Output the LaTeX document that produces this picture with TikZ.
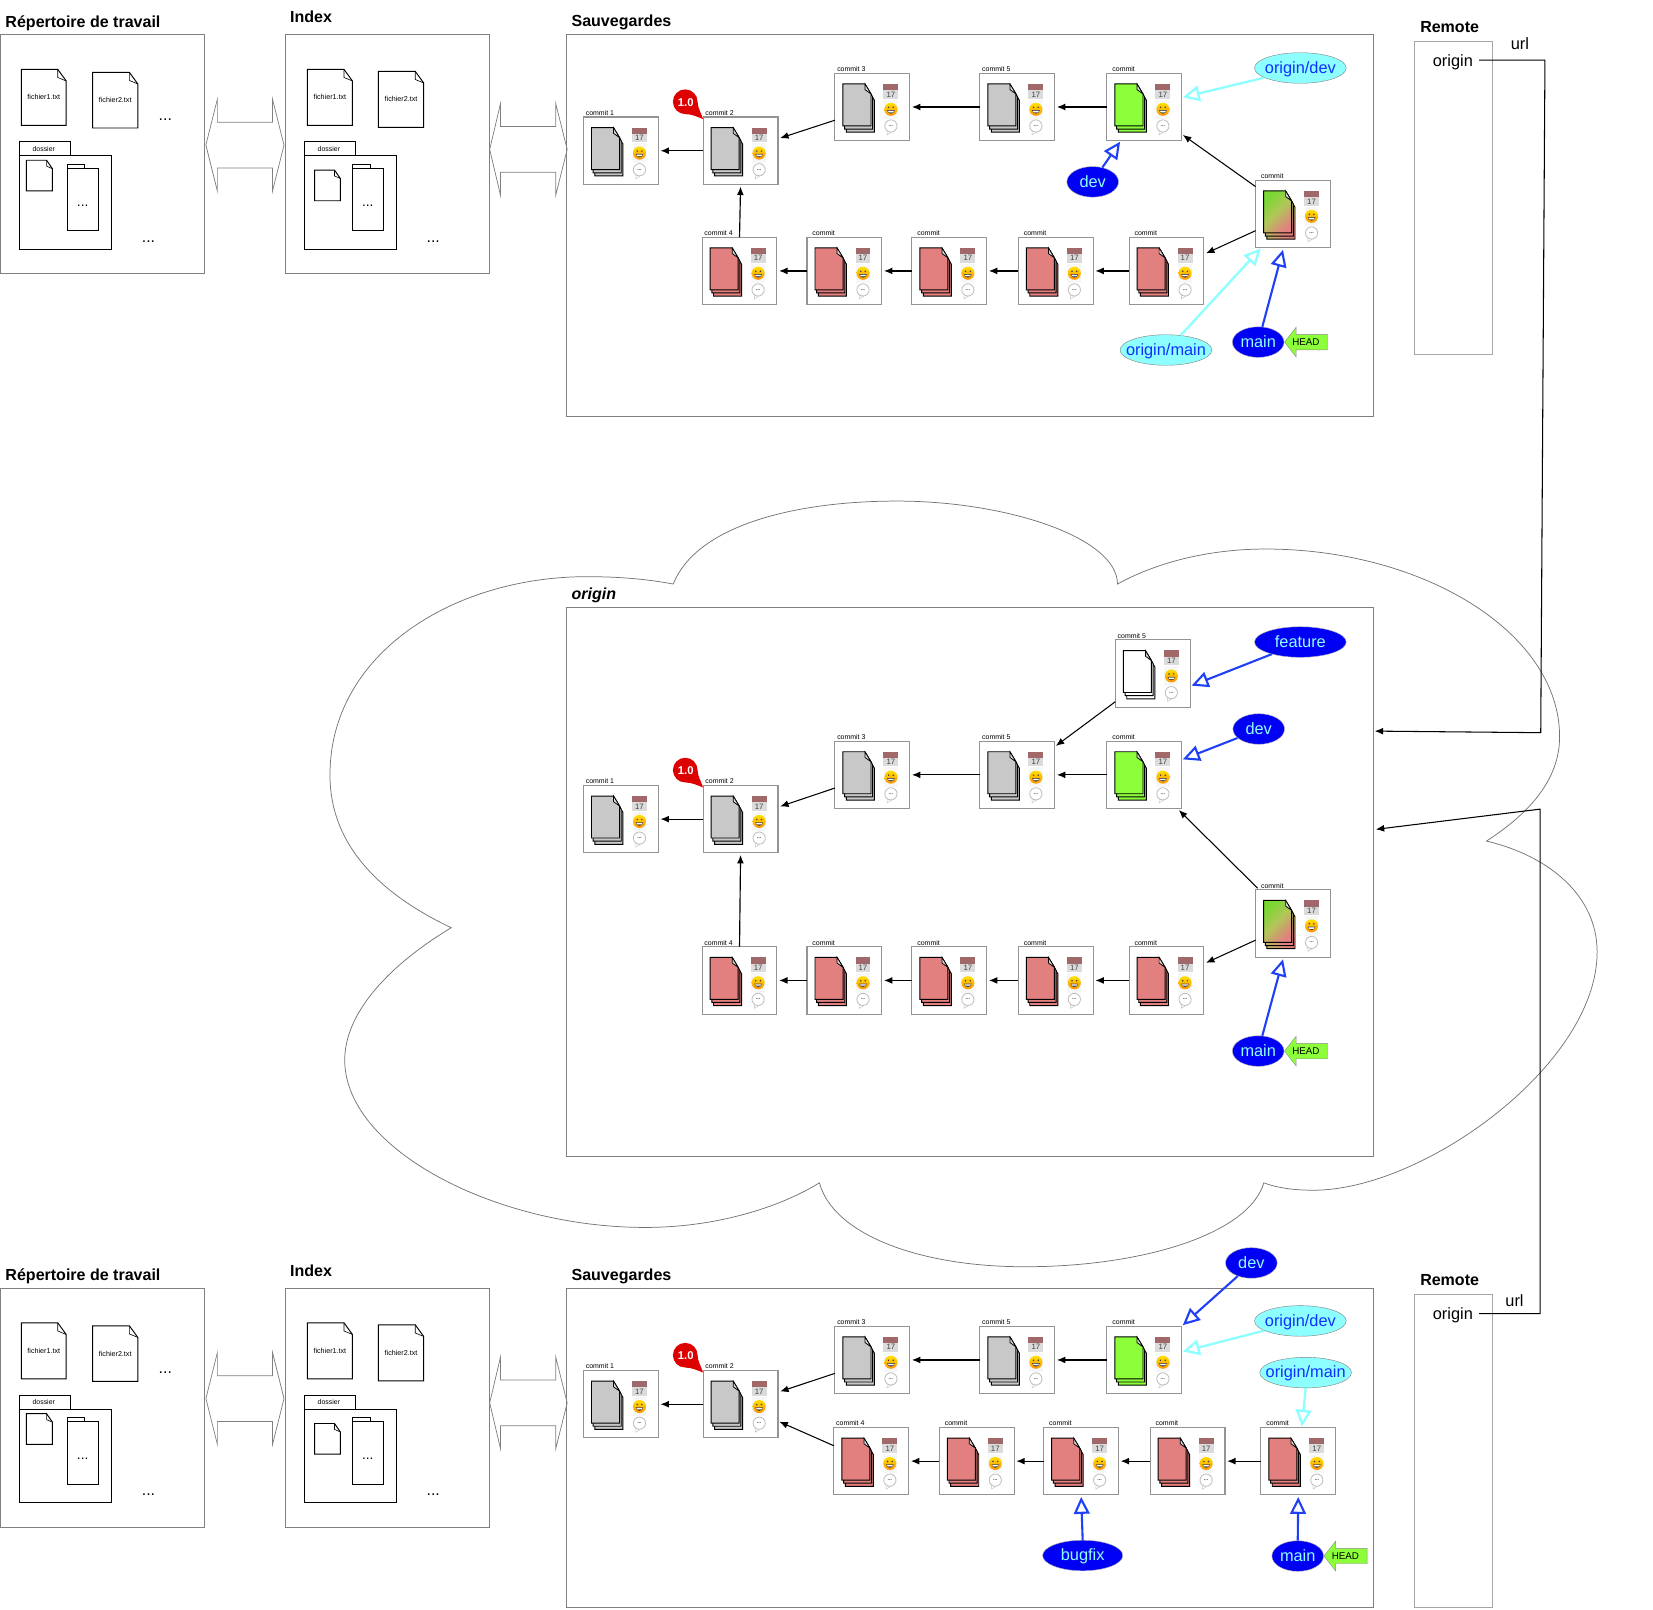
\documentclass[tikz,border=0pt]{standalone}
\usepackage{fontspec}
\setmainfont{Liberation Sans}
\usetikzlibrary{calc, arrows.meta, shapes.geometric, shapes.arrows}

\definecolor{filegray}{HTML}{C8C8C8}
\definecolor{filered}{HTML}{E27F7F}
\definecolor{filegreen}{HTML}{8CFF3A}
\definecolor{tagblue}{HTML}{0000F5}
\definecolor{tagcyan}{HTML}{8EFFFF}
\definecolor{ptrblue}{HTML}{2040F5}
\definecolor{txtblue}{HTML}{1030FF}
\definecolor{pinred}{HTML}{DD0000}
\definecolor{calred}{HTML}{A06868}

\tikzset{
  panelbox/.style={draw=black!50, line width=0.9pt, anchor=north west, inner sep=0, outer sep=0},
  commitbox/.style={draw=black!42, line width=1pt, fill=white, anchor=north west, inner sep=0, outer sep=0, minimum width=71pt, minimum height=64pt},
  commitname/.style={anchor=south west, inner sep=0, font=\fontsize{6.6}{7}\selectfont},
  title/.style={anchor=west, inner sep=0, font=\bfseries\fontsize{15.2}{18}\selectfont},
  plaintxt/.style={anchor=west, inner sep=3pt, font=\fontsize{15.5}{18}\selectfont},
  dots/.style={anchor=base, inner sep=0, font=\fontsize{15}{18}\selectfont},
  link/.style={-{Latex[length=8pt,width=6.5pt]}, line width=1.1pt, black, shorten >=2pt},
  wire/.style={-{Latex[length=8pt,width=6.5pt]}, line width=1pt, black},
  bluetag/.style={ellipse, draw=black!30, fill=tagblue, text=tagcyan, inner xsep=-10pt, inner ysep=0, text height=11pt, text depth=1pt, minimum width=49pt, minimum height=29pt, font=\fontsize{15.5}{18}\selectfont},
  cyantag/.style={ellipse, draw=black!50, fill=tagcyan, text=txtblue, inner xsep=-10pt, inner ysep=0, text height=11pt, text depth=1pt, minimum width=87pt, minimum height=29pt, font=\fontsize{15.5}{18}\selectfont},
  blueptr/.style={-{Triangle[open,length=16pt,width=15pt]}, ptrblue, line width=2pt},
  cyanptr/.style={-{Triangle[open,length=16pt,width=15pt]}, tagcyan, line width=2.2pt},
  headtag/.style={single arrow, shape border rotate=180, draw=black!45, fill=filegreen, anchor=tip, minimum height=40.8pt, single arrow head extend=6.8pt, single arrow tip angle=104, inner xsep=0.5pt, inner ysep=3.9pt, font=\fontsize{9.3}{10}\selectfont},
  pgray/.style={fill=filegray},
  pred/.style={fill=filered},
  pgreen/.style={fill=filegreen},
  pwhite/.style={fill=white},
  pmix/.style={top color=filegreen!85!black, bottom color=filered, middle color=filegreen!55!filered, shading angle=45},
}

% one commit : name, x, y, text, text offset, file style
\newcommand{\commit}[6]{
  \node[commitbox] (#1) at (#2,#3) {};
  \node[commitname] (#1n) at ($(#1.north west)+(#5,-1.2)$) {#4};
  \begin{scope}[shift={(#1.north west)}]
    \foreach \d in {2,1,0}
      \draw[#6, draw=black, line width=0.9pt, shift={(1.6*\d,3*\d)}] (7.6,10.1) -- (28.5,10.1) -- (34.2,19.6) -- (34.2,49.9) -- (7.6,49.9) -- cycle;
    \draw[fill=white!85!black, line width=0.7pt] (28.5,10.1) -- (28.5,15.5) -- (34.2,19.6) -- cycle;
    % date, smiley, comment
    \fill[black!14] (46,10) rectangle (60.2,24);
    \fill[calred] (46,10) rectangle (60.2,16);
    \node[inner sep=0, text=black!75, font=\fontsize{7.4}{8}\selectfont] (#1d) at (53.1,20) {17};
    \fill[black!3] (46.5,25) rectangle (59.5,43.5);
    \shade[top color=yellow!75!orange, bottom color=orange!85!yellow] (53.1,34.2) circle (6.2pt);
    \fill[black!75] (50.9,32.3) circle (0.8pt) (55.3,32.3) circle (0.8pt);
    \fill[black!70] (49.3,35) .. controls (50.5,39.5) and (55.7,39.5) .. (56.9,35) -- cycle;
    \fill[white] (50.3,35.7) -- (55.9,35.7) -- (55.2,37) -- (51,37) -- cycle;
    \draw[black!25, fill=white] (49.7,54) -- (49.5,58.5) -- (53.5,56) -- cycle;
    \node[circle, draw=black!25, fill=white, line width=0.8pt, inner sep=0, minimum size=11.6pt, text=black!75, font=\bfseries\fontsize{5}{5}\selectfont] (#1b) at (53.1,50) {...};
  \end{scope}
}

% the red version pin on a commit's corner
\newcommand{\tagpin}[1]{
  \begin{scope}[shift={(#1.north west)}]
    \fill[pinred] (0,2) .. controls (-2,-4) and (-5.3,-9) .. (-5.3,-14.5) .. controls (-5.3,-21) and (-10.5,-26.2) .. (-17,-26.2) .. controls (-23.5,-26.2) and (-28.7,-21) .. (-28.7,-14.5) .. controls (-28.7,-8) and (-23.5,-2.8) .. (-17,-2.8) .. controls (-11,-2.8) and (-5,0) .. cycle;
    \node[inner sep=0, text=white, font=\bfseries\fontsize{10.7}{12}\selectfont] (#1v) at (-16.5,-14) {1.0};
  \end{scope}
}

% x, y, width, height, ear width, ear height, name, text
\newcommand{\docfile}[8]{
  \begin{scope}[shift={(#1,#2)}]
    \draw[line width=0.9pt, fill=white] (0,0) -- (#3-#5,0) -- (#3,#6) -- (#3,#4) -- (0,#4) -- cycle;
    \draw[line width=0.6pt] (#3-#5,0) -- (#3-#5,#6*0.7) -- (#3,#6);
    \node[inner sep=0, font=\fontsize{6.8}{8}\selectfont] (#7) at (#3/2,#4/2) {#8};
  \end{scope}
}

% hollow double arrow between panels : left tip, left base, right base, right tip, middle
\newcommand{\dblarrow}[5]{
  \draw[black!50, line width=0.7pt] (#1,#5) -- (#2,#5-43.6) -- (#2,#5-21.7) -- (#3,#5-21.7) -- (#3,#5-43.6) -- (#4,#5) -- (#3,#5+43.6) -- (#3,#5+21.7) -- (#2,#5+21.7) -- (#2,#5+43.6) -- cycle;
}

% the two left panels
\newcommand{\workarea}[1]{
  \node[title] (rep#1) at (5,21.7) {Répertoire de travail};
  \node[title] (idx#1) at (275,16) {Index};
  \node[panelbox, minimum width=193.5pt, minimum height=226.5pt] (repbox#1) at (0.5,33) {};
  \node[panelbox, minimum width=194pt, minimum height=226.5pt] (idxbox#1) at (270.5,33) {};
  \dblarrow{195.3}{206.2}{258.5}{269.4}{137.6}
  \dblarrow{464.5}{474.8}{527.1}{538}{141.7}
  % working directory
  \docfile{20.3}{65.8}{42.5}{53.1}{8}{11}{repfa#1}{fichier1.txt}
  \docfile{87.9}{68.6}{42.8}{52.8}{8}{11}{repfb#1}{fichier2.txt}
  \node[dots] (repda#1) at (156.8,114) {...};
  \draw[line width=0.9pt] (18.9,147.7) rectangle (66.8,134.4);
  \node[inner sep=0, font=\fontsize{6.6}{8}\selectfont] (repdo#1) at (41.5,141) {dossier};
  \draw[line width=0.9pt] (18.9,147.7) rectangle (105.6,236.5);
  \docfile{25}{152}{24.7}{29}{5.5}{8}{repsm#1}{}
  \draw[line width=0.9pt] (63.9,155.9) rectangle (80.6,159.7);
  \draw[line width=0.9pt] (63.9,159.7) rectangle (93.7,218.8);
  \node[dots, font=\fontsize{13}{14}\selectfont] (repdb#1) at (78.4,195.5) {...};
  \node[dots] (repdc#1) at (140.9,230) {...};
  % index
  \docfile{291.5}{65.8}{42.8}{53.1}{8}{11}{idxfa#1}{fichier1.txt}
  \docfile{359}{67.7}{42.9}{53.1}{8}{11}{idxfb#1}{fichier2.txt}
  \draw[line width=0.9pt] (289,147.7) rectangle (337,134.4);
  \node[inner sep=0, font=\fontsize{6.6}{8}\selectfont] (idxdo#1) at (312,141) {dossier};
  \draw[line width=0.9pt] (289,147.7) rectangle (376,236.5);
  \docfile{298.4}{161.3}{24.4}{29.1}{5.5}{8}{idxsm#1}{}
  \draw[line width=0.9pt] (334.4,155.9) rectangle (351,159.7);
  \draw[line width=0.9pt] (334.4,159.7) rectangle (364,218.8);
  \node[dots, font=\fontsize{13}{14}\selectfont] (idxdb#1) at (348.9,195.5) {...};
  \node[dots] (idxdc#1) at (411,230) {...};
}

\newcommand{\headtxt}{\hspace*{-3pt}\raisebox{-1pt}{HEAD}\hspace*{3pt}}

\begin{document}
\begin{tikzpicture}[x=1pt,y=-1pt]
  \useasboundingbox (0,0) rectangle (1568,1526.3);

  % the cloud
  \draw[black!55, line width=0.7pt] (428,880) .. controls (365,850) and (313,805) .. (313,735)
    .. controls (313,620) and (430,547) .. (557,547) .. controls (585,547) and (612,549) .. (638.6,554)
    .. controls (660,500) and (750,475.3) .. (851,475.3) .. controls (955,475.3) and (1060,510) .. (1060,554)
    .. controls (1100,532) and (1150,520.8) .. (1200.4,520.8) .. controls (1350,520.8) and (1479.4,600) .. (1479.4,698.8)
    .. controls (1479.4,740) and (1450,772) .. (1410,797.8) .. controls (1470,812) and (1515,850) .. (1515,903)
    .. controls (1515,1010) and (1350,1129) .. (1246,1129) .. controls (1228,1129) and (1212,1127) .. (1198.8,1122)
    .. controls (1185,1170) and (1085,1201.6) .. (972,1201.6) .. controls (870,1201.6) and (790,1170) .. (777.3,1122)
    .. controls (740,1145) and (680,1164.3) .. (612,1164.3) .. controls (470,1164.3) and (327,1090) .. (327,1005.6)
    .. controls (327,960) and (370,915) .. cycle;

  %%%%% top
  \workarea{a}
  \node[title] (sava) at (542,21.7) {Sauvegardes};
  \node[panelbox, minimum width=765.5pt, minimum height=362pt] (savboxa) at (537.5,33) {};
  \node[title] (rema) at (1347,25.5) {Remote};
  \node[panelbox, draw=black!35, minimum width=73.5pt, minimum height=297pt] (remboxa) at (1342,39) {};
  \node[plaintxt] (orga) at (1356,59) {origin};
  \coordinate (orgstarta) at (1403,57);
  \node[plaintxt] (urla) at (1430,41) {url};

  \commit{c1a}{553.5}{111}{commit 1}{2}{pgray}
  \commit{c2a}{667}{111}{commit 2}{2}{pgray}
  \commit{c3a}{792}{69.5}{commit 3}{2}{pgray}
  \commit{c5a}{929.5}{69.5}{commit 5}{2}{pgray}
  \commit{greena}{1050}{69.5}{commit}{5}{pgreen}
  \commit{mergea}{1191}{171}{commit}{5}{pmix}
  \commit{r1a}{666}{225}{commit 4}{2}{pred}
  \commit{r2a}{765.5}{225}{commit}{5}{pred}
  \commit{r3a}{865}{225}{commit}{5}{pred}
  \commit{r4a}{966}{225}{commit}{5}{pred}
  \commit{r5a}{1071}{225}{commit}{5}{pred}
  \tagpin{c2a}

  \node[cyantag] (odeva) at (1233.5,64.5) {origin/dev};
  \node[bluetag] (deva) at (1036.5,172.5) {dev};
  \node[cyantag] (omaina) at (1106,332) {origin/main};
  \node[bluetag] (maina) at (1193.5,324.5) {main};
  \node[headtag] (heada) at (maina.east) {\headtxt};

  \draw[link] (c2a.west) -- (c1a.east);
  \draw[wire] ($(c3a.north west)+(0,44.5)$) -- ($(c2a.north east)+(2,20)$);
  \draw[link] (c5a.west) -- (c3a.east);
  \draw[link] (greena.west) -- (c5a.east);
  \draw[wire] ($(mergea.north west)+(0,6)$) -- ($(greena.south east)+(1,-5.5)$);
  \draw[wire] ($(mergea.north west)+(0,47.8)$) -- ($(r5a.north east)+(2,15.3)$);
  \draw[link] (r5a.west) -- (r4a.east);
  \draw[link] (r4a.west) -- (r3a.east);
  \draw[link] (r3a.west) -- (r2a.east);
  \draw[link] (r2a.west) -- (r1a.east);
  \draw[link] (r1a.north) -- (c2a.south);
  \draw[cyanptr] (odeva.195) -- ($(greena.north east)+(1,22.8)$);
  \draw[blueptr] (deva.56) -- ($(greena.south west)+(12.5,1)$);
  \draw[cyanptr] (omaina.45) -- ($(mergea.south west)+(5,0.6)$);
  \draw[blueptr] (maina.75) -- ($(mergea.south west)+(26,2)$);

  %%%%% origin
  \node[title, font=\bfseries\itshape\fontsize{15.2}{18}\selectfont] (sadb) at (542,564.7) {origin};
  \node[panelbox, minimum width=765.5pt, minimum height=521pt] (savboxb) at (537.5,576) {};

  \commit{c1b}{553.5}{745}{commit 1}{2}{pgray}
  \commit{c2b}{667}{745}{commit 2}{2}{pgray}
  \commit{c3b}{792}{703}{commit 3}{2}{pgray}
  \commit{c5b}{929.5}{703}{commit 5}{2}{pgray}
  \commit{whiteb}{1058}{607}{commit 5}{2}{pwhite}
  \commit{greenb}{1050}{703}{commit}{5}{pgreen}
  \commit{mergeb}{1191}{844}{commit}{5}{pmix}
  \commit{r1b}{666}{898}{commit 4}{2}{pred}
  \commit{r2b}{765.5}{898}{commit}{5}{pred}
  \commit{r3b}{865}{898}{commit}{5}{pred}
  \commit{r4b}{966}{898}{commit}{5}{pred}
  \commit{r5b}{1071}{898}{commit}{5}{pred}
  \tagpin{c2b}

  \node[bluetag, minimum width=87pt] (featb) at (1233.5,609) {feature};
  \node[bluetag] (devb) at (1194,691.5) {dev};
  \node[bluetag] (mainb) at (1193.5,997) {main};
  \node[headtag] (headb) at (mainb.east) {\headtxt};

  \draw[link] (c2b.west) -- (c1b.east);
  \draw[wire] ($(c3b.north west)+(0,44.5)$) -- ($(c2b.north east)+(2,20)$);
  \draw[link] (c5b.west) -- (c3b.east);
  \draw[link] (greenb.west) -- (c5b.east);
  \draw[wire] ($(whiteb.north west)+(0,58.6)$) -- ($(c5b.north east)+(1,4.6)$);
  \draw[wire] ($(mergeb.north west)+(2,-1.4)$) -- ($(greenb.south east)+(-2.8,1.4)$);
  \draw[wire] ($(mergeb.north west)+(0,47.8)$) -- ($(r5b.north east)+(2,15.3)$);
  \draw[link] (r5b.west) -- (r4b.east);
  \draw[link] (r4b.west) -- (r3b.east);
  \draw[link] (r3b.west) -- (r2b.east);
  \draw[link] (r2b.west) -- (r1b.east);
  \draw[link] (r1b.north) -- (c2b.south);
  \draw[blueptr] (featb.203) -- ($(whiteb.north east)+(1.3,43.4)$);
  \draw[blueptr] (devb.203) -- ($(greenb.north east)+(1,17.3)$);
  \draw[blueptr] (mainb.75) -- ($(mergeb.south west)+(26,2)$);

  %%%%% bottom
  \begin{scope}[yshift=-1189pt]
    \workarea{c}
  \end{scope}
  \node[title] (savc) at (542,1210.7) {Sauvegardes};
  \node[panelbox, minimum width=765.5pt, minimum height=303pt] (savboxc) at (537.5,1222) {};
  \node[title] (remc) at (1347,1214.5) {Remote};
  \node[panelbox, draw=black!35, minimum width=73.5pt, minimum height=297pt] (remboxc) at (1342,1228) {};
  \node[plaintxt] (orgc) at (1356,1248) {origin};
  \coordinate (orgstartc) at (1403,1246);
  \node[plaintxt] (urlc) at (1424.8,1233.8) {url};

  \commit{c1c}{553.5}{1300}{commit 1}{2}{pgray}
  \commit{c2c}{667}{1300}{commit 2}{2}{pgray}
  \commit{c3c}{792}{1258}{commit 3}{2}{pgray}
  \commit{c5c}{929.5}{1258}{commit 5}{2}{pgray}
  \commit{greenc}{1050}{1258}{commit}{5}{pgreen}
  \commit{r1c}{791}{1354}{commit 4}{2}{pred}
  \commit{r2c}{891}{1354}{commit}{5}{pred}
  \commit{r3c}{990}{1354}{commit}{5}{pred}
  \commit{r4c}{1091}{1354}{commit}{5}{pred}
  \commit{r5c}{1196}{1354}{commit}{5}{pred}
  \tagpin{c2c}

  \node[bluetag] (devc) at (1187,1198) {dev};
  \node[cyantag] (odevc) at (1233.5,1253) {origin/dev};
  \node[cyantag] (omainc) at (1238.5,1302) {origin/main};
  \node[bluetag, minimum width=76pt] (bugc) at (1027,1475.5) {bugfix};
  \node[bluetag] (mainc) at (1231,1476) {main};
  \node[headtag] (headc) at (mainc.east) {\headtxt};

  \draw[link] (c2c.west) -- (c1c.east);
  \draw[wire] ($(c3c.north west)+(0,44.7)$) -- ($(c2c.north east)+(2,20)$);
  \draw[link] (c5c.west) -- (c3c.east);
  \draw[link] (greenc.west) -- (c5c.east);
  \draw[wire] ($(r1c.north west)+(0,17.4)$) -- ($(c2c.north east)+(1.3,48.6)$);
  \draw[link] (r5c.west) -- (r4c.east);
  \draw[link] (r4c.west) -- (r3c.east);
  \draw[link] (r3c.west) -- (r2c.east);
  \draw[link] (r2c.west) -- (r1c.east);
  \draw[blueptr] (devc.224) -- ($(greenc.north east)+(1,-1)$);
  \draw[cyanptr] (odevc.195) -- ($(greenc.north east)+(1,24)$);
  \draw[cyanptr] (omainc.south) -- ($(r5c.north west)+(39,-0.7)$);
  \draw[blueptr, shorten >=2pt] (mainc.north) -- (r5c.south);
  \draw[blueptr, shorten >=2pt] (bugc.north) -- (r3c.south);

  %%%%% remote urls
  \coordinate (bendaa) at (1465.5,57);
  \coordinate (bendab) at (1461.5,695);
  \coordinate (bendca) at (1461,1246);
  \coordinate (bendcb) at (1461,767.5);
  \draw[wire] (orgstarta) -- (bendaa) -- (bendab) -- ($(savboxb.north east)+(1,117.5)$);
  \draw[wire] (orgstartc) -- (bendca) -- (bendcb) -- ($(savboxb.north east)+(2,210.7)$);

\end{tikzpicture}
\end{document}
